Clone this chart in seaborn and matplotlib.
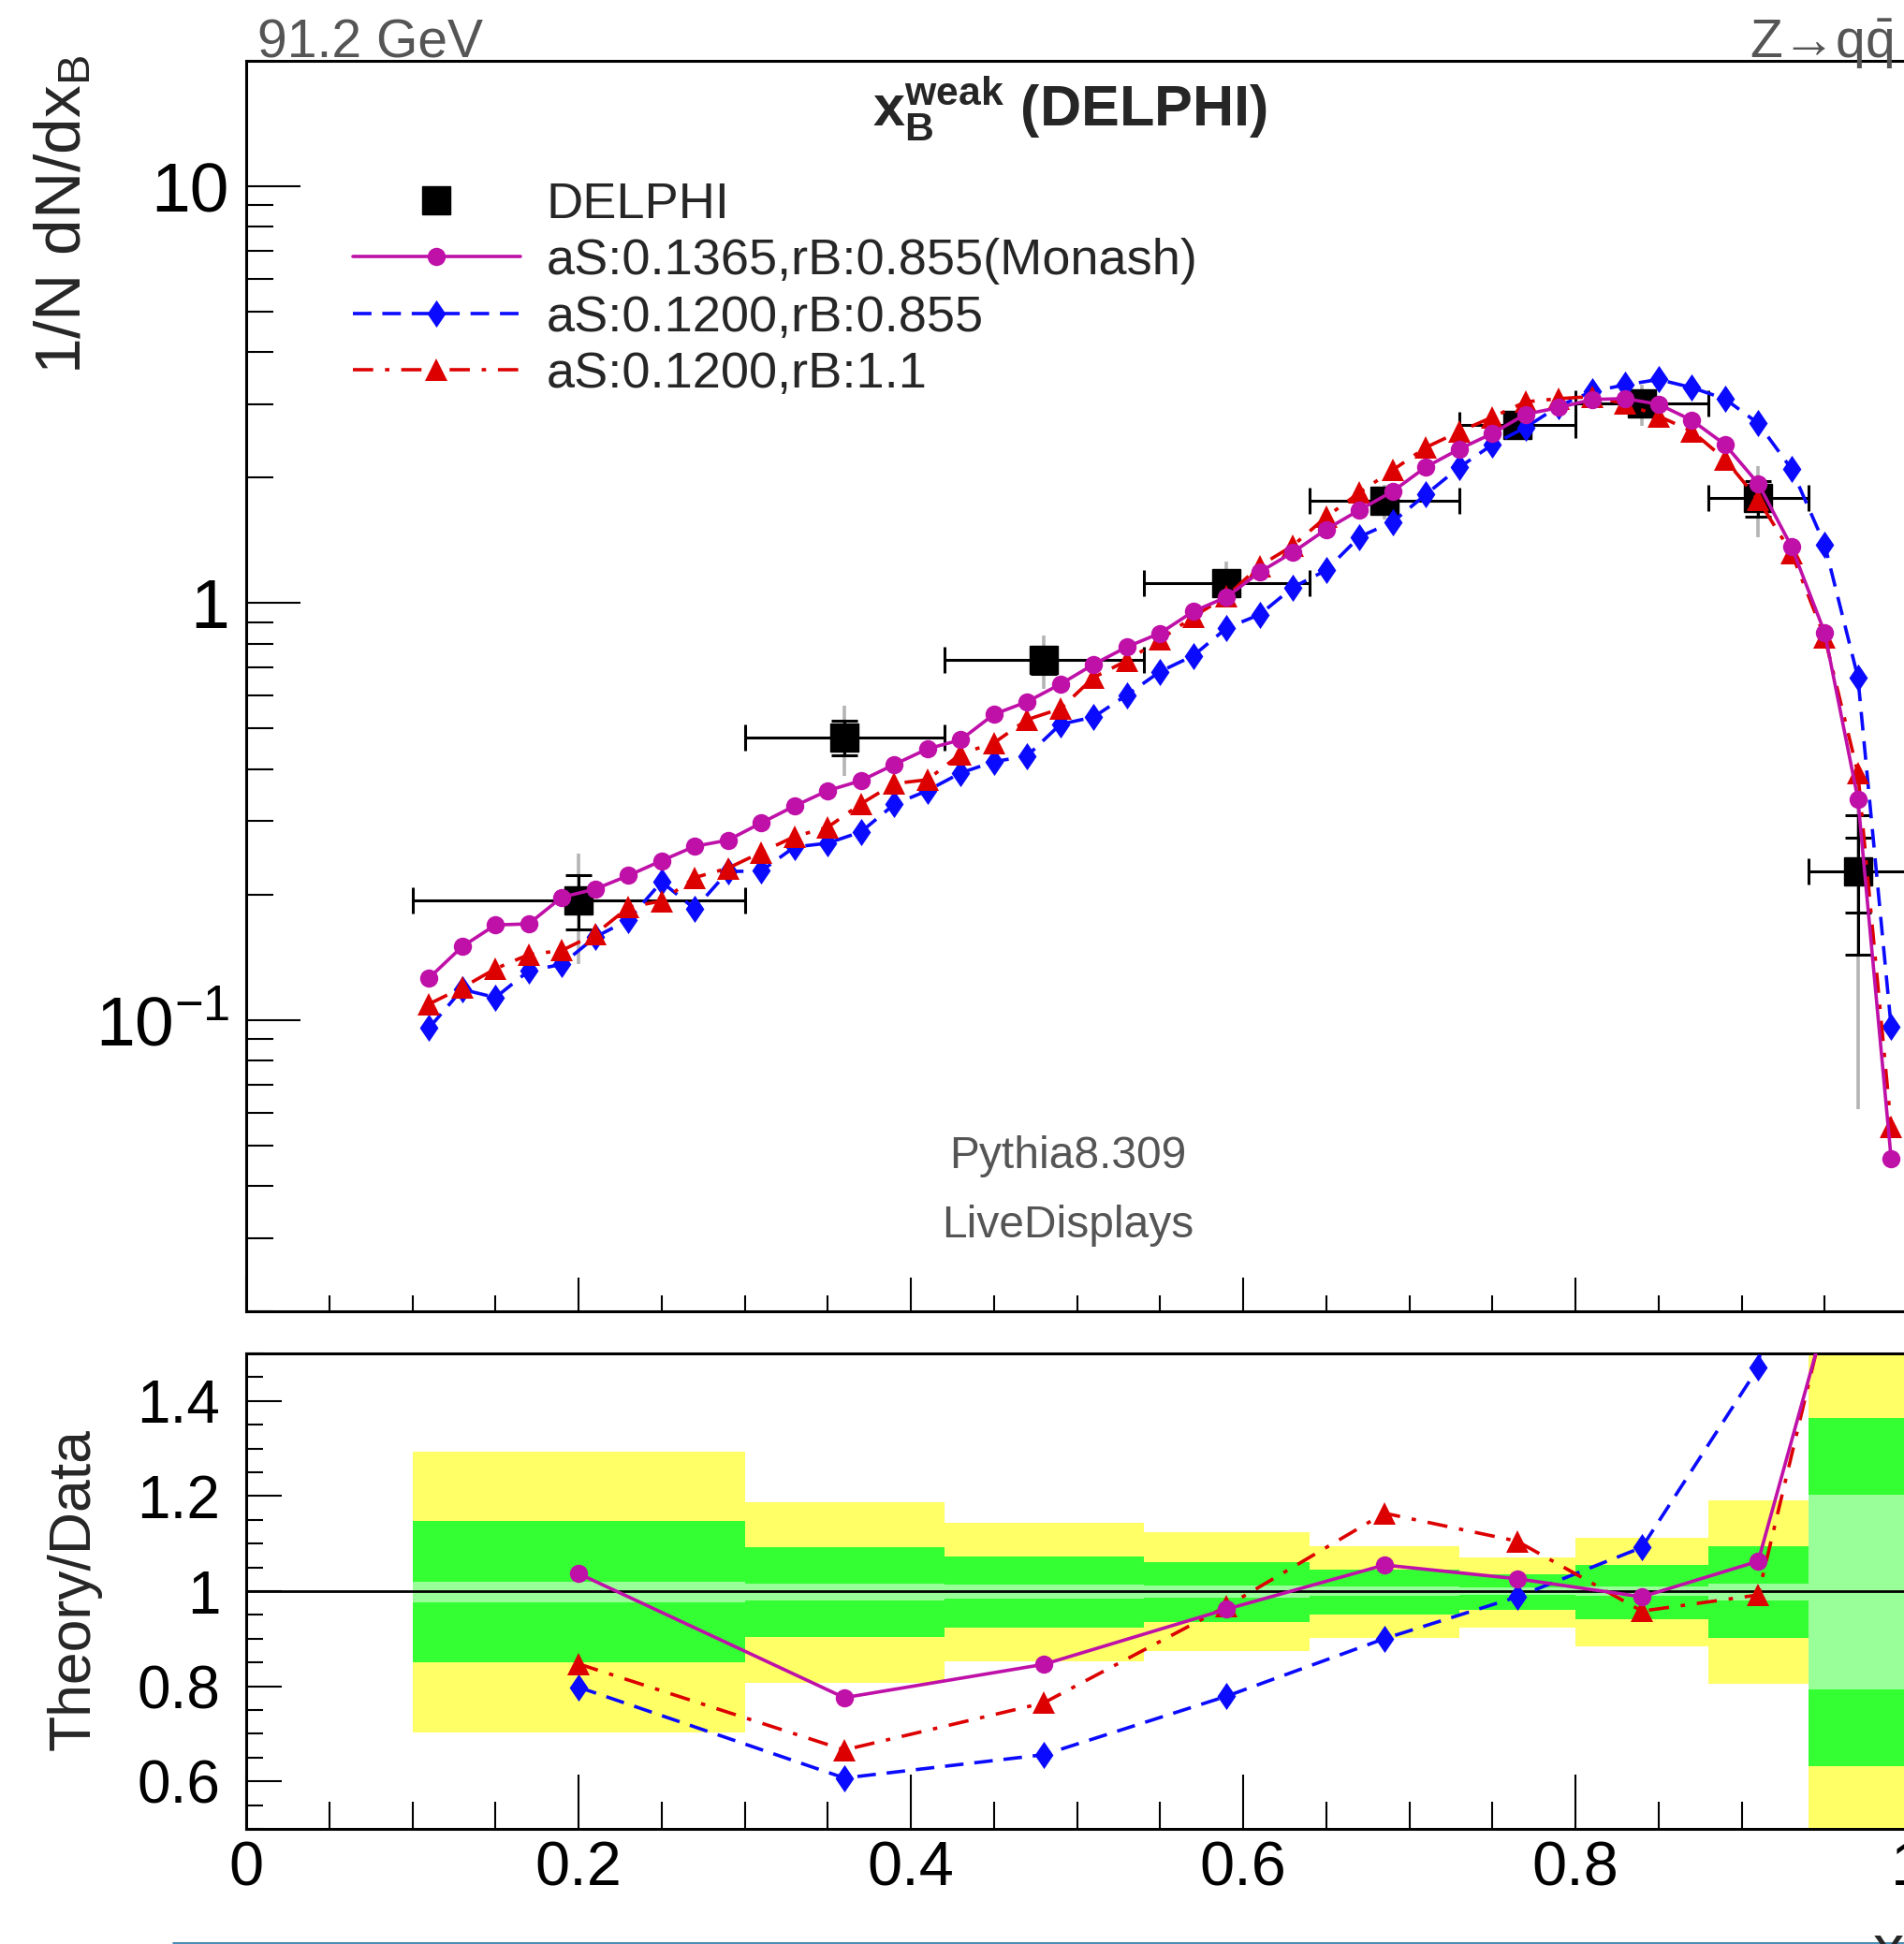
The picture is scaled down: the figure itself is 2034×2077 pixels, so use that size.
import matplotlib
matplotlib.use("Agg")
import numpy as np
import pandas as pd
import matplotlib.pyplot as plt
import seaborn as sns
from matplotlib.ticker import FixedLocator, MultipleLocator, LogLocator, FixedFormatter, NullFormatter, FuncFormatter
from matplotlib.lines import Line2D

sns.set_theme(style="ticks")
plt.rcParams["font.family"] = ["Liberation Sans", "DejaVu Sans"]
plt.rcParams["mathtext.fontset"] = "custom"
plt.rcParams["mathtext.rm"] = "Liberation Sans"
plt.rcParams["mathtext.bf"] = "Liberation Sans:bold"
plt.rcParams["mathtext.it"] = "Liberation Sans:italic"
plt.rcParams["axes.edgecolor"] = "black"
plt.rcParams["xtick.color"] = "black"
plt.rcParams["ytick.color"] = "black"

# ---------------- DELPHI measurement (9 bins) ----------------
bin_lo = [0.10, 0.30, 0.42, 0.54, 0.64, 0.73, 0.80, 0.88, 0.94]
bin_hi = [0.30, 0.42, 0.54, 0.64, 0.73, 0.80, 0.88, 0.94, 1.00]
bin_x = [0.20, 0.36, 0.48, 0.59, 0.685, 0.765, 0.84, 0.91, 0.97]
delphi_y = [0.194, 0.477, 0.731, 1.117, 1.76, 2.67, 3.01, 1.79, 0.2275]

# relative uncertainty bands (total / outer / inner)
tot_lo = [0.703, 0.808, 0.853, 0.874, 0.902, 0.924, 0.883, 0.806, 0.268]
tot_hi = [1.294, 1.187, 1.144, 1.124, 1.095, 1.071, 1.113, 1.190, 1.732]
sys_lo = [0.850, 0.903, 0.924, 0.936, 0.950, 0.960, 0.940, 0.901, 0.631]
sys_hi = [1.147, 1.093, 1.072, 1.061, 1.046, 1.035, 1.056, 1.095, 1.365]
stat_lo = [0.976, 0.980, 0.984, 0.986, 0.990, 0.992, 0.990, 0.981, 0.794]
stat_hi = [1.020, 1.016, 1.013, 1.011, 1.009, 1.007, 1.010, 1.016, 1.202]

# ---------------- Pythia 8.309 predictions ----------------
x_mc = [0.11, 0.13, 0.15, 0.17, 0.19, 0.21, 0.23, 0.25, 0.27, 0.29,
        0.31, 0.33, 0.35, 0.37, 0.39, 0.41, 0.43, 0.45, 0.47, 0.49,
        0.51, 0.53, 0.55, 0.57, 0.59, 0.61, 0.63, 0.65, 0.67, 0.69,
        0.71, 0.73, 0.75, 0.77, 0.79, 0.81, 0.83, 0.85, 0.87, 0.89,
        0.91, 0.93, 0.95, 0.97, 0.99]
y_monash = [0.126, 0.150, 0.169, 0.170, 0.197, 0.206, 0.222, 0.241, 0.261, 0.270,
            0.297, 0.326, 0.355, 0.375, 0.410, 0.447, 0.470, 0.541, 0.580, 0.639,
            0.713, 0.785, 0.847, 0.955, 1.034, 1.187, 1.325, 1.503, 1.673, 1.854,
            2.121, 2.341, 2.553, 2.840, 2.945, 3.080, 3.095, 3.000, 2.747, 2.402,
            1.936, 1.368, 0.850, 0.339, 0.0465]
y_as120 = [0.0956, 0.1184, 0.1132, 0.1311, 0.136, 0.158, 0.1738, 0.2145, 0.1847, 0.227,
           0.2278, 0.260, 0.2655, 0.2826, 0.329, 0.355, 0.3914, 0.4164, 0.430, 0.512,
           0.533, 0.602, 0.685, 0.748, 0.871, 0.939, 1.091, 1.200, 1.442, 1.566,
           1.823, 2.116, 2.40, 2.64, 2.97, 3.22, 3.34, 3.44, 3.29, 3.09,
           2.70, 2.10, 1.382, 0.664, 0.0962]
y_rb110 = [0.1092, 0.1195, 0.1327, 0.1435, 0.1468, 0.1607, 0.1862, 0.193, 0.2196, 0.2313,
           0.2525, 0.2754, 0.290, 0.330, 0.369, 0.377, 0.4346, 0.462, 0.5254, 0.558,
           0.663, 0.728, 0.817, 0.928, 1.038, 1.229, 1.374, 1.61, 1.842, 2.085,
           2.364, 2.578, 2.794, 3.04, 3.095, 3.13, 3.01, 2.81, 2.586, 2.214,
           1.77, 1.321, 0.829, 0.391, 0.0555]

# MC / data in the DELPHI binning
ratio_monash = [1.037, 0.776, 0.846, 0.962, 1.055, 1.026, 0.988, 1.063, 1.82]
ratio_as120 = [0.798, 0.607, 0.656, 0.779, 0.900, 0.988, 1.092, 1.470, 3.14]
ratio_rb110 = [0.847, 0.666, 0.765, 0.968, 1.164, 1.105, 0.958, 0.992, 1.87]

labels = ["DELPHI", "aS:0.1365,rB:0.855(Monash)", "aS:0.1200,rB:0.855", "aS:0.1200,rB:1.1"]
y_ticks_top = [0.1, 1, 10]
y_ticklabels_top = [r"$10^{-1}$", "1", "10"]

# ---------------- styles ----------------
C_MAG = "#bf10a8"
C_BLUE = "#0a0aff"
C_RED = "#dd0000"
LS_BLUE = (0, (5.5, 3.2))
LS_RED = (0, (6.0, 3.5, 1.3, 3.5))
LW = 2.6
diamond = [(0, 1), (0.68, 0), (0, -1), (-0.68, 0), (0, 1)]

W, H = 2034, 2077
fig = plt.figure(figsize=(W / 100, H / 100), dpi=100)


def box(l, t, r, b):
    return [l / W, 1 - b / H, (r - l) / W, (b - t) / H]


ax1 = fig.add_axes(box(263, 65, 2038, 1401))
ax2 = fig.add_axes(box(263, 1446, 2038, 1954))

df_mc = pd.DataFrame({"x": x_mc, "monash": y_monash, "as120": y_as120, "rb110": y_rb110})
df_rat = pd.DataFrame({"x": bin_x, "monash": ratio_monash, "as120": ratio_as120, "rb110": ratio_rb110})

series = [
    ("as120", dict(color=C_BLUE, linestyle=LS_BLUE, marker=diamond, markersize=21, zorder=5)),
    ("rb110", dict(color=C_RED, linestyle=LS_RED, marker="^", markersize=17.5, zorder=6)),
    ("monash", dict(color=C_MAG, linestyle="-", marker="o", markersize=14, zorder=7)),
]

# ---------------- upper panel ----------------
ax1.set_yscale("log")
ax1.set_xlim(0, 1)
ax1.set_ylim(0.02, 20)

yd = np.array(delphi_y)
xc = np.array(bin_x)
ax1.vlines(xc, yd * np.array(tot_lo), yd * np.array(tot_hi), color="#b4b4b4", lw=2.6, zorder=2)
ax1.errorbar(xc, yd,
             xerr=[xc - np.array(bin_lo), np.array(bin_hi) - xc],
             yerr=[yd - yd * np.array(sys_lo), yd * np.array(sys_hi) - yd],
             fmt="none", ecolor="black", elinewidth=2.2, capsize=10, capthick=2.2, zorder=3)
ax1.errorbar(xc, yd, yerr=[yd - yd * np.array(stat_lo), yd * np.array(stat_hi) - yd],
             fmt="none", ecolor="black", elinewidth=2.2, capsize=10, capthick=2.2, zorder=3)
ax1.plot(xc, yd, "s", ms=21.5, color="black", zorder=4, clip_on=True)

for key, st in series:
    sns.lineplot(data=df_mc, x="x", y=key, ax=ax1, estimator=None, sort=False, legend=False,
                 lw=LW, markeredgewidth=0, markeredgecolor=st["color"], **st)

ax1.set_xlabel("")
ax1.set_ylabel("")
ax1.yaxis.set_major_locator(FixedLocator(y_ticks_top))
ax1.yaxis.set_major_formatter(FixedFormatter(y_ticklabels_top))
ax1.yaxis.set_minor_locator(LogLocator(base=10, subs=np.arange(2, 10)))
ax1.yaxis.set_minor_formatter(NullFormatter())
ax1.xaxis.set_major_locator(MultipleLocator(0.2))
ax1.xaxis.set_minor_locator(MultipleLocator(0.05))
ax1.tick_params(axis="x", which="major", direction="in", length=26, width=1.5, labelbottom=False)
ax1.tick_params(axis="x", which="minor", direction="in", length=12, width=1.5)
ax1.tick_params(axis="y", which="major", direction="in", length=42, width=1.5, labelsize=54, pad=13)
ax1.tick_params(axis="y", which="minor", direction="in", length=21, width=1.5)
for s in ax1.spines.values():
    s.set_linewidth(2.2)

handles = [
    Line2D([], [], ls="none", marker="s", ms=21.5, color="black"),
    Line2D([], [], color=C_MAG, lw=LW, marker="o", ms=14, mew=0),
    Line2D([], [], color=C_BLUE, lw=LW, ls=LS_BLUE, marker=diamond, ms=21, mew=0),
    Line2D([], [], color=C_RED, lw=LW, ls=LS_RED, marker="^", ms=17.5, mew=0),
]
ax1.legend(handles, labels, loc="upper left", bbox_to_anchor=(377 / W, 1 - 194 / H),
           bbox_transform=fig.transFigure, frameon=False, fontsize=39,
           handlelength=3.3, handletextpad=0.52, labelspacing=0.19,
           borderaxespad=0, borderpad=0)

# ---------------- ratio panel ----------------
ax2.set_xlim(0, 1)
ax2.set_ylim(0.5, 1.5)
lo = np.array(bin_lo)
wd = np.array(bin_hi) - lo
for blo, bhi, col in [(tot_lo, tot_hi, "#ffff66"), (sys_lo, sys_hi, "#33ff33"), (stat_lo, stat_hi, "#99ff99")]:
    ax2.bar(lo, np.array(bhi) - np.array(blo), bottom=blo, width=wd, align="edge",
            color=col, lw=0, zorder=1)
ax2.axhline(1.0, color="black", lw=2.0, zorder=2)

for key, st in series:
    sns.lineplot(data=df_rat, x="x", y=key, ax=ax2, estimator=None, sort=False, legend=False,
                 lw=LW, markeredgewidth=0, markeredgecolor=st["color"], **st)

ax2.set_xlabel("")
ax2.set_ylabel("")
ax2.xaxis.set_major_locator(MultipleLocator(0.2))
ax2.xaxis.set_minor_locator(MultipleLocator(0.05))
ax2.yaxis.set_major_locator(FixedLocator([0.6, 0.8, 1.0, 1.2, 1.4]))
ax2.yaxis.set_minor_locator(MultipleLocator(0.05))
fmt = FuncFormatter(lambda v, p: "%g" % round(v, 2))
ax2.xaxis.set_major_formatter(fmt)
ax2.yaxis.set_major_formatter(fmt)
ax2.tick_params(axis="x", which="major", direction="in", length=42, width=1.5, labelsize=48, pad=9)
ax2.tick_params(axis="x", which="minor", direction="in", length=21, width=1.5)
ax2.tick_params(axis="y", which="major", direction="in", length=27, width=1.5, labelsize=46, pad=20)
ax2.tick_params(axis="y", which="minor", direction="in", length=13, width=1.5)
for s in ax2.spines.values():
    s.set_linewidth(2.2)

# ---------------- texts ----------------
grey = "#555555"
fig.text(275 / W, 1 - 62 / H, "91.2 GeV", color=grey, fontsize=41, ha="left", va="baseline")
fig.text(2023 / W, 1 - 62 / H, r"Z→q$\bar{\mathrm{q}}$", color=grey, fontsize=41, ha="right", va="baseline")
fig.text(1143 / W, 1 - 135 / H, r"$\mathbf{x}_{\mathbf{B}}^{\mathbf{weak}}$ (DELPHI)",
         fontsize=44, fontweight="bold", ha="center", va="baseline")
fig.text(1141 / W, 1 - 1235 / H, "Pythia8.309", color=grey, fontsize=34.5, ha="center", va="center")
fig.text(1141 / W, 1 - 1310 / H, "LiveDisplays", color=grey, fontsize=34.5, ha="center", va="center")
fig.text(68 / W, 1 - 58 / H, r"1/N dN/dx$_\mathrm{B}$", fontsize=50, rotation=90, ha="center", va="top")
fig.text(79 / W, 1 - 1698 / H, "Theory/Data", fontsize=45, rotation=90, ha="center", va="center")
fig.text(2000 / W, 1 - 2056 / H, r"x$_\mathrm{B}$", fontsize=48, ha="left", va="top")
fig.add_artist(Line2D([185 / W, 1.0], [0.6 / H, 0.6 / H], transform=fig.transFigure,
                      color="#2a78a8", lw=1.2))

fig.savefig("out.png", dpi=100)
